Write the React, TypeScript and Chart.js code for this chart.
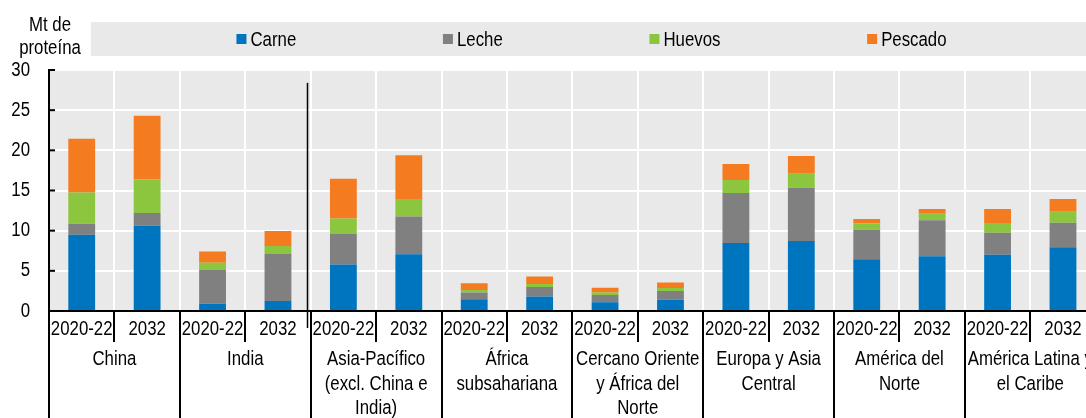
import React, { useEffect, useRef } from 'react';
import { Chart, registerables } from 'chart.js';
Chart.register(...registerables);

const regions: string[][] = [
  ['China'],
  ['India'],
  ['Asia-Pacífico', '(excl. China e', 'India)'],
  ['África', 'subsahariana'],
  ['Cercano Oriente', 'y África del', 'Norte'],
  ['Europa y Asia', 'Central'],
  ['América del', 'Norte'],
  ['América Latina y', 'el Caribe'],
];
const periods = ['2020-22', '2032'];
const carne = [9.5, 10.6, 0.9, 1.25, 5.8, 7.05, 1.45, 1.8, 1.1, 1.4, 8.45, 8.7, 6.45, 6.8, 7.0, 7.95];
const leche = [1.35, 1.6, 4.2, 5.85, 3.8, 4.7, 0.85, 1.2, 0.9, 1.1, 6.25, 6.65, 3.65, 4.5, 2.75, 3.05];
const huevos = [3.9, 4.2, 0.9, 1.0, 1.9, 2.2, 0.3, 0.35, 0.3, 0.35, 1.6, 1.75, 0.8, 0.8, 1.2, 1.35];
const pescado = [6.7, 7.9, 1.4, 1.85, 4.95, 5.45, 0.85, 0.95, 0.6, 0.7, 2.0, 2.2, 0.55, 0.6, 1.75, 1.6];
const seriesNames = ['Carne', 'Leche', 'Huevos', 'Pescado'];
const seriesColors = ['#0075BF', '#808080', '#8CC63F', '#F47B20'];
const yTitle = ['Mt de', 'proteína'];
const yTicks = [0, 5, 10, 15, 20, 25, 30];

const FONT = '"Liberation Sans", Arial, sans-serif';
const FS = 20.5;
const NARROW = 0.82; // Arial Narrow look

const decorPlugin = {
  id: 'decor',
  beforeDraw(chart: any) {
    const { ctx, chartArea: a } = chart;
    ctx.save();
    ctx.fillStyle = '#E9E9E9';
    ctx.fillRect(a.left, a.top, a.right - a.left, a.bottom - a.top);
    ctx.restore();
  },
  afterDraw(chart: any) {
    const { ctx, chartArea: a } = chart;
    const xs = chart.scales.x;
    const ys = chart.scales.y;
    const step = xs.getPixelForValue(1) - xs.getPixelForValue(0);
    const b0 = xs.getPixelForValue(0) - step / 2;
    const bnd = (k: number) => b0 + k * step;
    const H = chart.height;
    ctx.save();
    ctx.strokeStyle = '#000';
    ctx.lineWidth = 2;
    for (let k = 0; k <= xs.ticks.length; k++) {
      const x = Math.round(bnd(k));
      ctx.beginPath();
      ctx.moveTo(x, a.bottom);
      ctx.lineTo(x, k % 2 === 0 ? H : a.bottom + 31);
      ctx.stroke();
    }
    ctx.beginPath();
    ctx.moveTo(a.left, a.top);
    ctx.lineTo(a.left, H);
    ctx.stroke();
    for (const v of yTicks) {
      const y = ys.getPixelForValue(v);
      ctx.beginPath();
      ctx.moveTo(a.left, y);
      ctx.lineTo(a.left + 6, y);
      ctx.stroke();
    }
    ctx.beginPath();
    ctx.moveTo(a.left - 1, a.bottom);
    ctx.lineTo(a.right, a.bottom);
    ctx.stroke();
    ctx.lineWidth = 1.5;
    const sx = Math.round(bnd(4)) - 3.5;
    ctx.beginPath();
    ctx.moveTo(sx, ys.getPixelForValue(28.4));
    ctx.lineTo(sx, a.bottom + 17);
    ctx.stroke();

    ctx.fillStyle = '#000';
    ctx.font = `${FS}px ${FONT}`;
    ctx.textAlign = 'center';
    ctx.textBaseline = 'middle';
    ctx.fillText(yTitle[0], 50, 25);
    ctx.fillText(yTitle[1], 50, 48);

    const lx0 = 91, lx1 = 1092, ly0 = 22, ly1 = 56;
    ctx.fillStyle = '#E9E9E9';
    ctx.fillRect(lx0, ly0, lx1 - lx0, ly1 - ly0);
    const ds = chart.data.datasets;
    const widths = ds.map((d: any) => ctx.measureText(d.label).width);
    const box = 10, gapBT = 4, gap = 146.7;
    const total = widths.reduce((s: number, w: number) => s + box + gapBT + w, 0) + gap * (ds.length - 1);
    let x = (lx0 + lx1) / 2 - total / 2;
    const cy = (ly0 + ly1) / 2;
    ctx.textAlign = 'left';
    ds.forEach((d: any, i: number) => {
      ctx.fillStyle = d.backgroundColor;
      ctx.fillRect(x, cy - box / 2, box, box);
      ctx.fillStyle = '#000';
      ctx.fillText(d.label, x + box + gapBT, cy + 1);
      x += box + gapBT + widths[i] + gap;
    });
    ctx.restore();
  },
};

function narrowText(ctx: any) {
  const origFill = ctx.fillText.bind(ctx);
  const origMeasure = ctx.measureText.bind(ctx);
  ctx.fillText = (t: string, x: number, y: number, mw?: number) => {
    ctx.save();
    ctx.translate(x, y);
    ctx.scale(NARROW, 1);
    if (mw === undefined) origFill(t, 0, 0);
    else origFill(t, 0, 0, mw / NARROW);
    ctx.restore();
  };
  ctx.measureText = (t: string) => {
    const m = origMeasure(t);
    return {
      width: m.width * NARROW,
      actualBoundingBoxLeft: m.actualBoundingBoxLeft * NARROW,
      actualBoundingBoxRight: m.actualBoundingBoxRight * NARROW,
      actualBoundingBoxAscent: m.actualBoundingBoxAscent,
      actualBoundingBoxDescent: m.actualBoundingBoxDescent,
      fontBoundingBoxAscent: m.fontBoundingBoxAscent,
      fontBoundingBoxDescent: m.fontBoundingBoxDescent,
    };
  };
}

export default function App() {
  const ref = useRef<HTMLCanvasElement>(null);
  useEffect(() => {
    const canvas = ref.current!;
    narrowText(canvas.getContext('2d'));
    const labels = regions.flatMap(() => periods);
    const values = [carne, leche, huevos, pescado];
    const chart = new Chart(canvas, {
      type: 'bar',
      data: {
        labels,
        datasets: values.map((v, i) => ({
          label: seriesNames[i],
          data: v,
          backgroundColor: seriesColors[i],
          borderWidth: 0,
          categoryPercentage: 1,
          barPercentage: 0.41,
          stack: 's',
        })),
      },
      options: {
        animation: false,
        responsive: false,
        devicePixelRatio: 1,
        layout: { padding: { left: 0, right: 14.3, top: 70, bottom: 0 } },
        plugins: { legend: { display: false }, tooltip: { enabled: false } },
        font: { family: FONT, size: FS },
        scales: {
          x: {
            stacked: true,
            weight: 0,
            offset: true,
            grid: { color: '#FFFFFF', lineWidth: 2, drawTicks: false, offset: true },
            border: { display: true, color: '#000', width: 2 },
            ticks: { color: '#000', font: { family: FONT, size: FS, lineHeight: 1.2 }, padding: 5.7, maxRotation: 0, minRotation: 0, autoSkip: false },
            afterFit: (s: any) => { s.height = 34; },
          },
          x2: {
            type: 'category',
            labels: regions as any,
            position: 'bottom',
            weight: 1,
            offset: true,
            grid: { display: false, drawTicks: false },
            border: { display: false },
            ticks: { color: '#000', font: { family: FONT, size: FS, lineHeight: 1.2 }, padding: 2.2, maxRotation: 0, minRotation: 0, autoSkip: false },
            afterFit: (s: any) => { s.height = 73; },
          },
          y: {
            stacked: true,
            min: 0,
            max: 30,
            grid: { color: '#FFFFFF', lineWidth: 2, drawTicks: false },
            border: { display: true, color: '#000', width: 2 },
            ticks: { stepSize: 5, color: '#000', font: { family: FONT, size: FS }, padding: 19 },
            afterFit: (s: any) => { s.width = 49; },
          },
        },
      } as any,
      plugins: [decorPlugin],
    });
    return () => chart.destroy();
  }, []);
  return (
    <div style={{ position: 'fixed', left: 0, top: 0, width: 1086, height: 418, overflow: 'hidden', background: '#fff' }}>
      <canvas ref={ref} width={1110} height={418} style={{ display: 'block' }} />
    </div>
  );
}
